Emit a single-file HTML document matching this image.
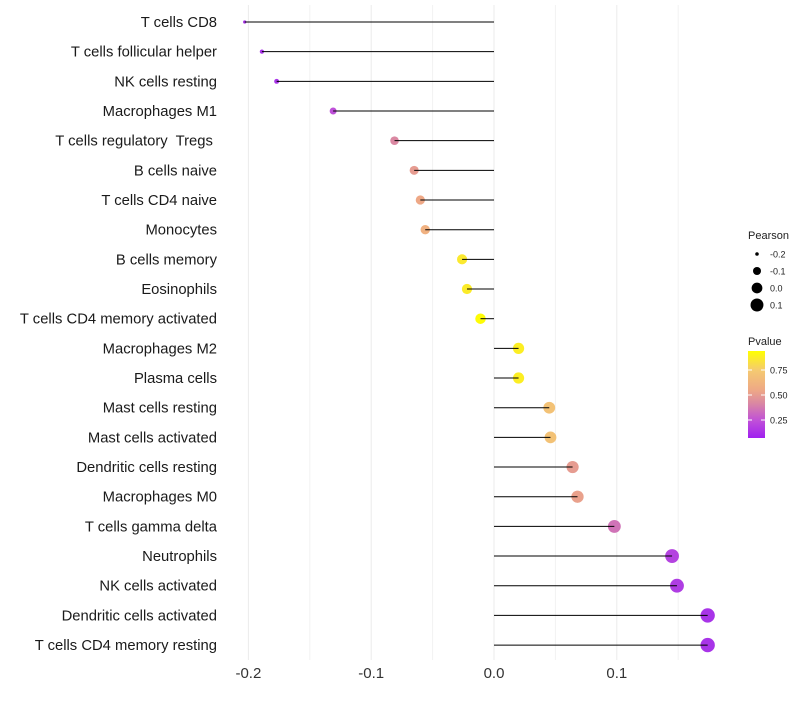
<!DOCTYPE html>
<html><head><meta charset="utf-8"><style>
body{margin:0;background:#fff;font-family:"Liberation Sans",sans-serif}
svg text{font-family:"Liberation Sans",sans-serif;white-space:pre}
</style></head><body>
<svg id="chart" width="800" height="700" xmlns="http://www.w3.org/2000/svg">
<g id="grid"></g>
<g id="ylabels"></g>
<g id="marks"></g>
<g id="xlabels"></g>
<g id="legend">
<defs><linearGradient id="pg" x1="0" y1="1" x2="0" y2="0">
<stop offset="0" stop-color="#A020F0"/><stop offset="0.2" stop-color="#C050D8"/><stop offset="0.4" stop-color="#DA88A2"/><stop offset="0.55" stop-color="#EEA886"/><stop offset="0.78" stop-color="#F5CA70"/><stop offset="1" stop-color="#FFFF00"/></linearGradient></defs>
<text x="748" y="239" font-size="11" fill="#222">Pearson</text>
<text x="748" y="345" font-size="11" fill="#222">Pvalue</text>
<rect x="748" y="351" width="17" height="87" fill="url(#pg)"/>
</g>
</svg>
<script>
const categories=["T cells CD8","T cells follicular helper","NK cells resting","Macrophages M1","T cells regulatory  Tregs ","B cells naive","T cells CD4 naive","Monocytes","B cells memory","Eosinophils","T cells CD4 memory activated","Macrophages M2","Plasma cells","Mast cells resting","Mast cells activated","Dendritic cells resting","Macrophages M0","T cells gamma delta","Neutrophils","NK cells activated","Dendritic cells activated","T cells CD4 memory resting"];
const pearson=[-0.203,-0.189,-0.177,-0.131,-0.081,-0.065,-0.060,-0.056,-0.026,-0.022,-0.011,0.020,0.020,0.045,0.046,0.064,0.068,0.098,0.145,0.149,0.174,0.174];
const pvalue=[0.01,0.03,0.05,0.22,0.42,0.5,0.55,0.6,0.86,0.87,0.93,0.88,0.88,0.7,0.7,0.5,0.52,0.35,0.15,0.12,0.05,0.05];
const xTicks=[-0.2,-0.1,0.0,0.1];
const xTickLabels=["-0.2","-0.1","0.0","0.1"];
const xMinor=[-0.15,-0.05,0.05,0.15];
const sizeLegend=[-0.2,-0.1,0.0,0.1];
const pTicks=[0.25,0.5,0.75];

const NS="http://www.w3.org/2000/svg";
const x=v=>494+v*1228;
const y=i=>22+i*29.67;
const r=v=>Math.sqrt(2.5+(v+0.205)/0.38*49);
const py=p=>438-(p-0.07)/(0.94-0.07)*87;
const stops=[[0.07,[168,52,232]],[0.25,[194,86,214]],[0.42,[218,136,162]],[0.55,[238,168,134]],[0.75,[245,202,112]],[0.94,[255,255,0]]];
function col(p){p=Math.max(0.07,Math.min(0.94,p));
 for(let k=0;k<stops.length-1;k++){const [a,A]=stops[k],[b,B]=stops[k+1];
  if(p<=b){const t=(p-a)/(b-a);return `rgb(${A.map((c,j)=>Math.round(c+(B[j]-c)*t))})`;}}
 return 'rgb(255,255,0)';}
function el(tag,attrs,parent){const e=document.createElementNS(NS,tag);for(const k in attrs)e.setAttribute(k,attrs[k]);parent.appendChild(e);return e;}
const grid=document.getElementById('grid'),yl=document.getElementById('ylabels'),mk=document.getElementById('marks'),xl=document.getElementById('xlabels'),lg=document.getElementById('legend');
xMinor.forEach(v=>{const l=el('line',{x1:x(v),x2:x(v),y1:5,y2:660,stroke:'#f2f2f2','stroke-width':1},grid);

});
xTicks.forEach((v,i)=>{const l=el('line',{x1:x(v),x2:x(v),y1:5,y2:660,stroke:'#ebebeb','stroke-width':1},grid);


const t=el('text',{x:x(v),y:678,'font-size':15,'text-anchor':'middle',fill:'#333'},xl);t.textContent=xTickLabels[i];

});
categories.forEach((c,i)=>{
 const t=el('text',{x:217,y:y(i)+5,'font-size':14.8,'text-anchor':'end',fill:'#1a1a1a'},yl);t.textContent=c;
 
 
 const d=el('circle',{cx:x(pearson[i]),cy:y(i),r:r(pearson[i]),fill:col(pvalue[i])},mk);
 
 
 const l=el('line',{x1:x(0),x2:x(pearson[i]),y1:y(i),y2:y(i),stroke:'#000','stroke-width':1},mk);
 
 
});
sizeLegend.forEach((v,i)=>{const cy=254+i*17;
 const d=el('circle',{cx:757,cy:cy,r:r(v),fill:'#000'},lg);
 
 
 const t=el('text',{x:770,y:cy+3.5,'font-size':9,fill:'#222'},lg);t.textContent=v.toFixed(1);
 
 });
pTicks.forEach(p=>{const yy=py(p);
 el('line',{x1:748,x2:752,y1:yy,y2:yy,stroke:'#fff','stroke-width':1},lg);
 el('line',{x1:761,x2:765,y1:yy,y2:yy,stroke:'#fff','stroke-width':1},lg);
 const t=el('text',{x:770,y:yy+3.5,'font-size':9,fill:'#222'},lg);t.textContent=p.toFixed(2);
 
 });
</script>
</body></html>
